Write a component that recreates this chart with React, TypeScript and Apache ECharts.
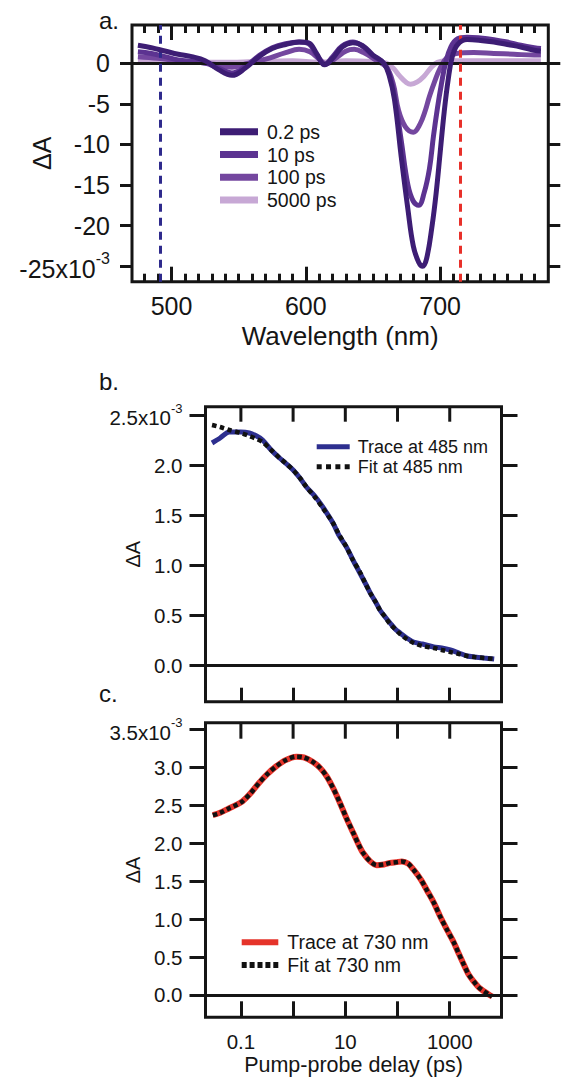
import React, { useEffect, useRef } from 'react';
import * as echarts from 'echarts';

const FONT = '"Liberation Sans", Arial, Helvetica, sans-serif';
const INK = '#151515';

// ---------- Panel a: transient spectra (ΔA in 10^-3) ----------
const spec02ps: [number, number][] = [
  [475, 2.2], [485, 1.9], [495, 1.5], [505, 1.1], [515, 0.8], [525, 0.3], [535, -0.8], [545, -1.5],
  [555, -0.6], [565, 0.8], [575, 1.8], [585, 2.3], [595, 2.6], [602, 2.5], [608, 1.2], [614, -0.2],
  [620, 0.6], [627, 2.0], [635, 2.5], [642, 2.2], [650, 1.0], [658, 0], [662, -1.5], [666, -4.5],
  [671, -11.5], [676, -18], [680, -22.5], [684, -24.5], [687, -25], [690, -24], [694, -20], [697, -16],
  [700, -11], [703, -6], [706, -2], [709, 0.8], [713, 2.3], [720, 2.9], [730, 2.8], [740, 2.6],
  [750, 2.3], [760, 2.0], [770, 1.6], [775, 1.5],
];
const spec10ps: [number, number][] = [
  [475, 1.4], [485, 1.2], [495, 0.8], [505, 0.4], [515, 0.2], [525, 0], [535, -0.6], [545, -1.2],
  [555, -0.4], [565, 0.9], [575, 1.9], [585, 2.4], [595, 2.6], [602, 2.4], [608, 1.0], [614, -0.1],
  [620, 0.8], [627, 2.1], [635, 2.6], [642, 2.1], [650, 0.9], [658, 0], [662, -1.2], [666, -4],
  [671, -9.5], [676, -15], [680, -17], [684, -17.5], [688, -16], [692, -13], [695, -9], [698, -5.5],
  [701, -2.5], [704, 0], [708, 2.0], [713, 3.0], [720, 3.2], [730, 3.1], [740, 2.9], [750, 2.6],
  [760, 2.2], [770, 1.9], [775, 1.8],
];
const spec100ps: [number, number][] = [
  [475, 0.8], [490, 0.6], [505, 0.3], [520, 0.1], [535, -0.2], [545, -0.5], [555, -0.1], [570, 0.5],
  [585, 1.3], [595, 1.7], [603, 1.4], [610, 0.5], [615, -0.1], [622, 0.6], [630, 1.5], [636, 1.7],
  [643, 1.3], [652, 0.4], [660, -0.5], [665, -2.5], [669, -5.8], [674, -7.8], [680, -8.5], [685, -7.5],
  [689, -5.8], [692, -4.1], [696, -2.2], [700, -0.6], [705, 0.7], [712, 1.2], [725, 1.3], [740, 1.2],
  [755, 1.1], [770, 1.0], [775, 1.0],
];
const spec5000ps: [number, number][] = [
  [475, 0.3], [500, 0.2], [530, 0.1], [545, 0.1], [560, 0.2], [590, 0.3], [610, 0.1], [630, 0.3],
  [650, 0.2], [660, 0], [665, -0.6], [670, -1.6], [675, -2.4], [678, -2.6], [683, -2.3], [688, -1.6],
  [693, -0.6], [698, 0.1], [705, 0.3], [730, 0.3], [775, 0.3],
];
const aSeriesNames = ['0.2 ps', '10 ps', '100 ps', '5000 ps'];
const aColors = ['#3d1d74', '#5c3391', '#74479f', '#c7a8d5'];
const aProbeLines = [491.7, 714.8];
const aXMajor = [500, 600, 700];
const aXMinor = [480, 490, 510, 520, 530, 540, 550, 560, 570, 580, 590, 610, 620, 630, 640, 650, 660, 670, 680, 690, 710, 720, 730, 740, 750, 760, 770];
const aYTicks = [0, -5, -10, -15, -20, -25];

// ---------- Panel b: kinetics at 485 nm ----------
const bTime = [0.028, 0.04, 0.06, 0.1, 0.145, 0.2, 0.26, 0.38, 0.55, 0.75, 1, 1.35, 1.8, 2.6, 3.7, 5.8, 7.5, 10.5, 14, 19, 24, 30, 38, 46, 58, 72, 90, 112, 150, 203, 300, 494, 700, 1030, 1500, 2170, 3000, 4500, 7100];
const bTrace = [2.22, 2.27, 2.33, 2.33, 2.32, 2.29, 2.25, 2.15, 2.07, 2.01, 1.95, 1.87, 1.78, 1.69, 1.58, 1.42, 1.30, 1.18, 1.05, 0.92, 0.82, 0.72, 0.63, 0.55, 0.48, 0.42, 0.36, 0.32, 0.27, 0.23, 0.21, 0.18, 0.17, 0.15, 0.12, 0.09, 0.08, 0.07, 0.06];
const bFit = [2.40, 2.38, 2.35, 2.32, 2.29, 2.26, 2.23, 2.15, 2.07, 2.01, 1.95, 1.87, 1.78, 1.68, 1.57, 1.42, 1.31, 1.18, 1.05, 0.93, 0.82, 0.72, 0.63, 0.55, 0.48, 0.41, 0.36, 0.31, 0.26, 0.22, 0.19, 0.17, 0.15, 0.13, 0.11, 0.09, 0.08, 0.07, 0.06];
const bYTicks = [0, 0.5, 1, 1.5, 2, 2.5];

// ---------- Panel c: kinetics at 730 nm ----------
const cTime = [0.029, 0.04, 0.06, 0.08, 0.107, 0.15, 0.22, 0.32, 0.47, 0.7, 1.15, 1.6, 2.4, 3.3, 4.4, 5.9, 7.9, 10.5, 14.3, 18, 22, 30, 40, 55, 72, 95, 121, 160, 203, 280, 365, 500, 660, 900, 1180, 1500, 1860, 2300, 2900, 3600, 4500, 5500, 6500];
const cTrace = [2.37, 2.40, 2.46, 2.50, 2.55, 2.65, 2.79, 2.91, 3.01, 3.09, 3.14, 3.13, 3.07, 2.99, 2.88, 2.72, 2.53, 2.33, 2.13, 1.98, 1.87, 1.76, 1.71, 1.72, 1.74, 1.75, 1.76, 1.73, 1.65, 1.52, 1.38, 1.21, 1.03, 0.85, 0.70, 0.54, 0.40, 0.27, 0.175, 0.10, 0.05, 0.01, -0.02];
const cFit = [2.37, 2.40, 2.46, 2.50, 2.55, 2.65, 2.79, 2.91, 3.01, 3.09, 3.14, 3.13, 3.07, 2.99, 2.88, 2.72, 2.53, 2.33, 2.13, 1.98, 1.87, 1.76, 1.71, 1.72, 1.74, 1.75, 1.76, 1.73, 1.65, 1.52, 1.38, 1.21, 1.03, 0.85, 0.70, 0.54, 0.40, 0.27, 0.175, 0.10, 0.05, 0.01, -0.02];
const cYTicks = [0, 0.5, 1, 1.5, 2, 2.5, 3, 3.5];
const timeMin = 0.021;
const timeMax = 9800;
const timeDecades = [0.1, 1, 10, 100, 1000];
const timeLabels: Record<string, string> = { '-1': '0.1', '1': '10', '3': '1000' };

const B_YMIN = -0.367, B_YMAX = 2.583;
const C_YMIN = -0.294, C_YMAX = 3.587;

const zip = (xs: number[], ys: number[]) => xs.map((x, i) => [x, ys[i]]);

const tickStyle = { color: INK, width: 3 };
const labelBase = { fontFamily: FONT, color: INK };
const DOTS_B = 'path://M0,0h5v5h-5z M9.33,0h5v5h-5z M18.67,0h5v5h-5z M28,0h5v5h-5z';
const DOTS_C = 'path://M0,0h5v6h-5z M7.9,0h5v6h-5z M15.8,0h5v6h-5z M23.7,0h5v6h-5z M31.6,0h5v6h-5z';

function App() {
  const ref = useRef<HTMLDivElement>(null);
  useEffect(() => {
    if (!ref.current) return;
    const chart = echarts.init(ref.current, null, { renderer: 'svg' });

    const supRich = (size: number, sup: number) => ({
      m: { fontSize: size, fontFamily: FONT, color: INK, verticalAlign: 'bottom', lineHeight: size + 6 },
      s: { fontSize: sup, fontFamily: FONT, color: INK, verticalAlign: 'top', lineHeight: sup + 2 },
    });

    const logLabel = (v: number) => {
      const l = Math.round(Math.log10(v) * 1000) / 1000;
      return timeLabels[String(l)] ?? '';
    };

    const xLogAxis = (grid: number, withLabels: boolean, len: number) => ({
      type: 'log', gridIndex: grid, position: 'bottom', min: timeMin, max: timeMax, logBase: 10,
      axisLine: { show: false, onZero: false }, splitLine: { show: false },
      axisTick: { show: true, inside: true, length: len, lineStyle: tickStyle },
      axisLabel: withLabels
        ? { show: true, formatter: logLabel, fontSize: 20.5, margin: 14, ...labelBase, showMinLabel: true, showMaxLabel: true }
        : { show: false },
      nameMoveOverlap: false,
      ...(withLabels ? {
        name: 'Pump-probe delay (ps)', nameLocation: 'middle', nameGap: 37,
        nameTextStyle: { fontSize: 21.5, fontFamily: FONT, color: INK },
      } : {}),
    });

    const xValAxis = (pos: 'top' | 'bottom', ticks: number[], len: number, withLabels: boolean) => ({
      type: 'value', gridIndex: 0, position: pos, min: 470.6, max: 780.5,
      axisLine: { show: false, onZero: false }, splitLine: { show: false },
      axisTick: { show: true, inside: true, length: len, lineStyle: tickStyle, customValues: ticks },
      axisLabel: withLabels
        ? { show: true, customValues: ticks, fontSize: 25, margin: 12, ...labelBase }
        : { show: false },
      nameMoveOverlap: false,
      ...(withLabels ? {
        name: 'Wavelength (nm)', nameLocation: 'middle', nameGap: 41,
        nameTextStyle: { fontSize: 26, fontFamily: FONT, color: INK },
      } : {}),
    });

    const yAxisPair = (grid: number, min: number, max: number, ticks: number[], fs: number, margin: number,
      tickLen: number, nameGap: number, nameSize: number, fmt: (v: number) => string) => ([
      {
        type: 'value', gridIndex: grid, position: 'left', min, max,
        axisLine: { show: false, onZero: false }, splitLine: { show: false },
        axisTick: { show: true, inside: false, length: tickLen, lineStyle: tickStyle, customValues: ticks },
        axisLabel: { show: true, customValues: ticks, fontSize: fs, margin, ...labelBase, formatter: fmt, rich: supRich(fs, Math.round(fs * 0.65)) },
        name: 'ΔA', nameLocation: 'middle', nameRotate: 90, nameGap, nameMoveOverlap: false,
        nameTextStyle: { fontSize: nameSize, fontFamily: FONT, color: INK },
      },
      {
        type: 'value', gridIndex: grid, position: 'right', min, max,
        axisLine: { show: false, onZero: false }, splitLine: { show: false },
        axisTick: { show: true, inside: false, length: tickLen, lineStyle: tickStyle, customValues: ticks },
        axisLabel: { show: false },
      },
    ]);

    const zeroLine = (xi: number, yi: number, x0: number) => ({
      type: 'line', xAxisIndex: xi, yAxisIndex: yi, data: [[x0, 0]], symbol: 'none', silent: true, z: 1,
      lineStyle: { width: 0 },
      markLine: {
        silent: true, symbol: 'none', label: { show: false },
        lineStyle: { color: INK, width: 3, type: 'solid' },
        data: [{ yAxis: 0 }],
      },
    });

    const gridBase = { show: true, borderColor: INK, borderWidth: 3, backgroundColor: 'transparent', outerBoundsMode: 'none', containLabel: false };

    const option: any = {
      animation: false,
      backgroundColor: '#ffffff',
      textStyle: { fontFamily: FONT },
      grid: [
        { ...gridBase, left: 132, top: 25, width: 416.3, height: 256.7 },
        { ...gridBase, left: 205.5, top: 406.7, width: 296, height: 295 },
        { ...gridBase, left: 205.5, top: 722.7, width: 296, height: 294.6 },
      ],
      xAxis: [
        xValAxis('bottom', aXMajor, 15, true),
        xValAxis('bottom', aXMinor, 8, false),
        xValAxis('top', aXMajor, 15, false),
        xValAxis('top', aXMinor, 8, false),
        xLogAxis(1, false, 14),
        xLogAxis(2, true, 16),
      ],
      yAxis: [
        ...yAxisPair(0, -26.9, 4.7, aYTicks, 25, 22, 12, 78, 25,
          (v: number) => (v === -25 ? '{m|-25x10}{s|-3}' : String(v))),
        ...yAxisPair(1, B_YMIN, B_YMAX, bYTicks, 20.5, 23, 16, 63, 20,
          (v: number) => (Math.abs(v - 2.5) < 1e-9 ? '{m|2.5x10}{s|-3}' : v.toFixed(1))),
        ...yAxisPair(2, C_YMIN, C_YMAX, cYTicks, 20.5, 23, 16, 63, 20,
          (v: number) => (Math.abs(v - 3.5) < 1e-9 ? '{m|3.5x10}{s|-3}' : v.toFixed(1))),
      ],
      legend: [
        {
          data: aSeriesNames, orient: 'vertical', left: 215, top: 115.3, itemWidth: 38, itemHeight: 7,
          itemGap: 0, icon: 'rect', selectedMode: false,
          textStyle: { fontSize: 19.5, fontFamily: FONT, color: INK, lineHeight: 22.8, padding: [0, 0, 0, 4] },
        },
        {
          data: [{ name: 'Trace at 485 nm', icon: 'rect' }, { name: 'Fit at 485 nm', icon: DOTS_B }],
          orient: 'vertical', left: 311.7, top: 431.7, itemWidth: 33, itemHeight: 5, itemGap: 0, selectedMode: false,
          textStyle: { fontSize: 18, fontFamily: FONT, color: INK, lineHeight: 20, padding: [0, 0, 0, 3] },
        },
        {
          data: [{ name: 'Trace at 730 nm', icon: 'rect' }, { name: 'Fit at 730 nm', icon: DOTS_C }],
          orient: 'vertical', left: 236.7, top: 926, itemWidth: 36.6, itemHeight: 6, itemGap: 0, selectedMode: false,
          textStyle: { fontSize: 19.5, fontFamily: FONT, color: INK, lineHeight: 22.7, padding: [0, 0, 0, 4] },
        },
      ],
      graphic: [
        { id: 'lab-a', type: 'text', left: 99, top: 8, style: { text: 'a.', font: `24px ${FONT}`, fill: INK } },
        { id: 'lab-b', type: 'text', left: 99, top: 369, style: { text: 'b.', font: `24px ${FONT}`, fill: INK } },
        { id: 'lab-c', type: 'text', left: 99, top: 681, style: { text: 'c.', font: `24px ${FONT}`, fill: INK } },
      ],
      series: [
        zeroLine(0, 0, 470.6),
        ...[spec02ps, spec10ps, spec100ps, spec5000ps].map((d, i) => ({
          type: 'line', name: aSeriesNames[i], xAxisIndex: 0, yAxisIndex: 0, data: d,
          smooth: 0.4, symbol: 'none', showSymbol: false, z: 5 - i,
          lineStyle: { color: aColors[i], width: 5 }, itemStyle: { color: aColors[i] },
        })),
        {
          type: 'line', xAxisIndex: 0, yAxisIndex: 0, data: [[470.6, 0]], symbol: 'none', silent: true, z: 10,
          lineStyle: { width: 0 },
          markLine: {
            silent: true, symbol: 'none', label: { show: false },
            data: [
              { xAxis: aProbeLines[0], lineStyle: { color: '#2e2a8c', width: 3, type: [8, 6] } },
              { xAxis: aProbeLines[1], lineStyle: { color: '#e8302a', width: 3, type: [8, 6] } },
            ],
          },
        },
        zeroLine(4, 2, timeDecades[0]),
        {
          type: 'line', name: 'Trace at 485 nm', xAxisIndex: 4, yAxisIndex: 2, data: zip(bTime, bTrace),
          smooth: 0.3, symbol: 'none', showSymbol: false, z: 3,
          lineStyle: { color: '#2d2f8f', width: 5 }, itemStyle: { color: '#2d2f8f' },
        },
        {
          type: 'line', name: 'Fit at 485 nm', xAxisIndex: 4, yAxisIndex: 2, data: zip(bTime, bFit),
          smooth: 0.3, symbol: 'none', showSymbol: false, z: 4,
          lineStyle: { color: '#111111', width: 4.5, type: [4.5, 3.5], cap: 'butt' }, itemStyle: { color: '#111111' },
        },
        zeroLine(5, 4, timeDecades[0]),
        {
          type: 'line', name: 'Trace at 730 nm', xAxisIndex: 5, yAxisIndex: 4, data: zip(cTime, cTrace),
          smooth: 0.3, symbol: 'none', showSymbol: false, z: 3,
          lineStyle: { color: '#e5332a', width: 6 }, itemStyle: { color: '#e5332a' },
        },
        {
          type: 'line', name: 'Fit at 730 nm', xAxisIndex: 5, yAxisIndex: 4, data: zip(cTime, cFit),
          smooth: 0.3, symbol: 'none', showSymbol: false, z: 4,
          lineStyle: { color: '#111111', width: 4.5, type: [4.5, 3], cap: 'butt' }, itemStyle: { color: '#111111' },
        },
      ],
    };
    chart.setOption(option);

    // Decade ticks hanging from the top frame of panels b and c, positioned through the
    // panels' own log axes (convertToPixel) once the layout exists.
    const topTicks: any[] = [];
    const addTicks = (xi: number, yi: number, yTop: number, len: number, key: string) => {
      timeDecades.forEach((t, k) => {
        const p = chart.convertToPixel({ xAxisIndex: xi, yAxisIndex: yi } as any, [t, yTop]) as any;
        if (!p || !isFinite(p[0]) || !isFinite(p[1])) return;
        topTicks.push({
          id: `tick-${key}-${k}`, type: 'line', z: 100, silent: true,
          shape: { x1: p[0], y1: p[1], x2: p[0], y2: p[1] + len },
          style: { stroke: INK, lineWidth: 3 },
        });
      });
    };
    addTicks(4, 2, B_YMAX, 15, 'b');
    addTicks(5, 4, C_YMAX, 16, 'c');
    if (topTicks.length) chart.setOption({ graphic: topTicks });

    return () => chart.dispose();
  }, []);
  return <div ref={ref} style={{ position: 'fixed', left: 0, top: 0, width: 563, height: 1078, background: '#fff' }} />;
}

export default App;
